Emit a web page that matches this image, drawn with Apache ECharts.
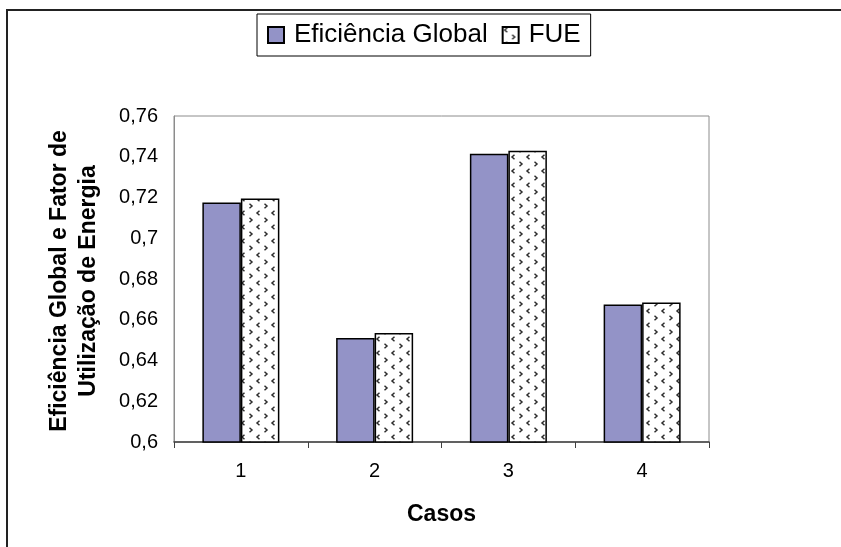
<!DOCTYPE html>
<html>
<head>
<meta charset="utf-8">
<script src="https://cdn.jsdelivr.net/npm/echarts@6/dist/echarts.min.js"></script>
<style>html,body{margin:0;padding:0;background:#fff}#c{width:841px;height:547px}</style>
</head>
<body>
<div id="c"></div>
<script>
const categories = ['1', '2', '3', '4'];
const eficienciaGlobal = [0.7175, 0.651, 0.7415, 0.6675];
const fue = [0.7195, 0.6535, 0.743, 0.6685];
const seriesNames = ['Eficiência Global', 'FUE'];
const yTitle = 'Eficiência Global e Fator de\nUtilização de Energia';
const xTitle = 'Casos';

function makePattern() {
  const c = document.createElement('canvas');
  c.width = 15; c.height = 14;
  const g = c.getContext('2d');
  g.fillStyle = '#ffffff';
  g.fillRect(0, 0, 15, 14);
  g.strokeStyle = '#2e2e2e';
  g.lineWidth = 1.5;
  g.beginPath();
  g.moveTo(4.5, 0.8); g.lineTo(2, 3); g.lineTo(4.5, 5.2);
  g.stroke();
  g.beginPath();
  g.moveTo(9.5, 7.8); g.lineTo(12, 10); g.lineTo(9.5, 12.2);
  g.stroke();
  return c;
}
const pattern = { image: makePattern(), repeat: 'repeat' };

const chart = echarts.init(document.getElementById('c'), null, { renderer: 'canvas' });
const FONT = '"Liberation Sans", Arial, sans-serif';
chart.setOption({
  backgroundColor: '#ffffff',
  animation: false,
  textStyle: { fontFamily: FONT },
  graphic: [
    { type: 'rect', shape: { x: 7, y: 10, width: 900, height: 600 },
      style: { fill: 'none', stroke: '#222', lineWidth: 2 }, silent: true },
    { type: 'text', x: 74, y: 281, rotation: Math.PI / 2,
      style: { text: yTitle, font: 'bold 23px ' + FONT, fill: '#000',
        textAlign: 'center', textVerticalAlign: 'middle', lineHeight: 29 } }
  ],
  legend: {
    left: 257, top: 14,
    padding: [8, 10, 8, 10],
    itemGap: 14, itemWidth: 16, itemHeight: 16,
    borderColor: '#000', borderWidth: 1,
    textStyle: { fontSize: 26, color: '#000', fontFamily: FONT, padding: [0, 0, 0, 5] },
    data: [
      { name: seriesNames[0], icon: 'rect' },
      { name: seriesNames[1], icon: 'rect' }
    ]
  },
  grid: { left: 174, right: 132, top: 116, bottom: 105, show: true,
    borderColor: '#8c8c8c', borderWidth: 1 },
  xAxis: {
    type: 'category', data: categories,
    name: xTitle, nameLocation: 'middle', nameGap: 61,
    nameTextStyle: { fontSize: 23, fontWeight: 'bold', color: '#000', fontFamily: FONT },
    axisLine: { lineStyle: { color: '#404040', width: 1.5 } },
    axisTick: { show: true, interval: 0, length: 6, lineStyle: { color: '#404040' } },
    axisLabel: { fontSize: 20, color: '#000', margin: 19, fontFamily: FONT }
  },
  yAxis: {
    type: 'value', min: 0.6, max: 0.76, interval: 0.02,
    axisLine: { show: true, lineStyle: { color: '#8c8c8c' } },
    axisTick: { show: false },
    splitLine: { show: false },
    axisLabel: { fontSize: 20, color: '#000', margin: 16, fontFamily: FONT,
      formatter: v => String(+v.toFixed(2)).replace('.', ',') }
  },
  series: [
    { name: seriesNames[0], type: 'bar', data: eficienciaGlobal,
      barWidth: 38.5, barGap: '0%',
      itemStyle: { color: '#9393C7', borderColor: '#000', borderWidth: 1.5 } },
    { name: seriesNames[1], type: 'bar', data: fue,
      barWidth: 38.5, barGap: '0%',
      itemStyle: { color: pattern, borderColor: '#000', borderWidth: 1.5 } }
  ]
});
</script>
</body>
</html>
